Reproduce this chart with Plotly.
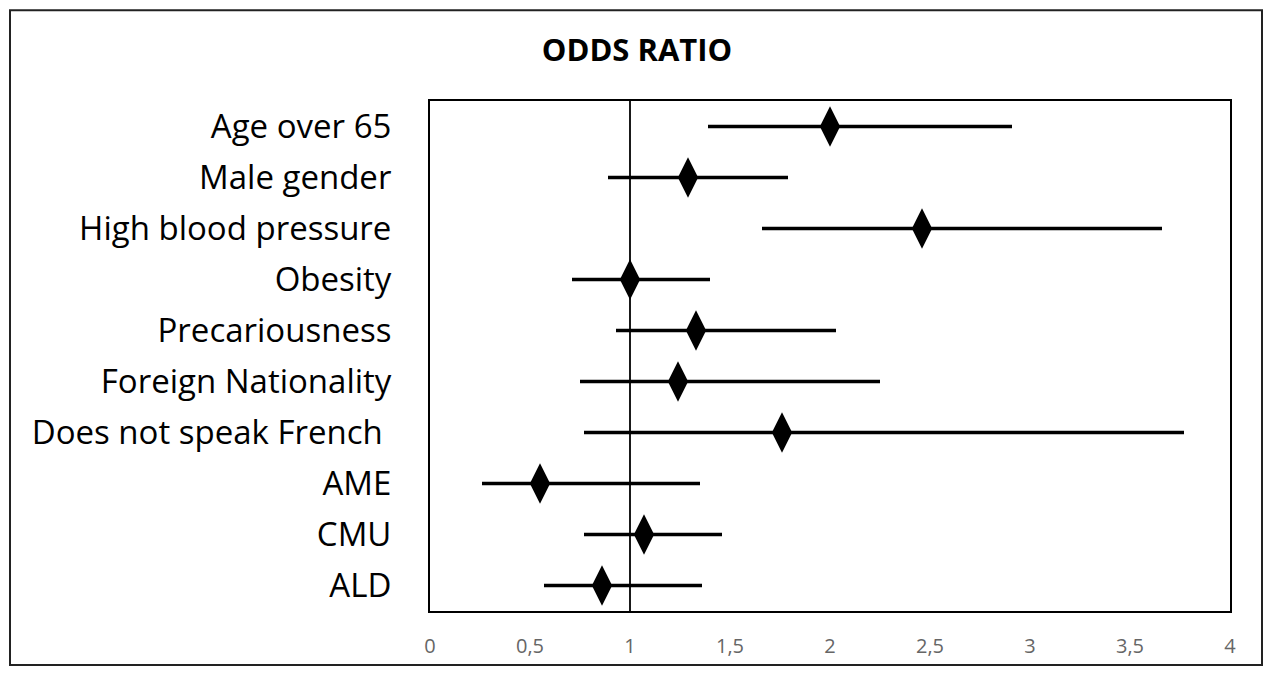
import plotly.graph_objects as go

factors = ['Age over 65', 'Male gender', 'High blood pressure', 'Obesity', 'Precariousness',
           'Foreign Nationality', 'Does not speak French ', 'AME', 'CMU', 'ALD']
odds = [2.00, 1.29, 2.46, 1.00, 1.33, 1.24, 1.76, 0.55, 1.07, 0.86]
ci_low = [1.39, 0.89, 1.66, 0.71, 0.93, 0.75, 0.77, 0.26, 0.77, 0.57]
ci_high = [2.91, 1.79, 3.66, 1.40, 2.03, 2.25, 3.77, 1.35, 1.46, 1.36]

err_plus = [h - o for h, o in zip(ci_high, odds)]
err_minus = [o - l for o, l in zip(odds, ci_low)]

fig = go.Figure()
fig.add_trace(go.Scatter(
    x=odds, y=factors, mode='markers',
    marker=dict(symbol='diamond-tall', size=29, color='black'),
    error_x=dict(type='data', symmetric=False, array=err_plus, arrayminus=err_minus,
                 color='black', thickness=3.5, width=0),
    showlegend=False
))

fig.add_vline(x=1, line=dict(color='black', width=1.8), layer='below')

# outer frame round the whole chart
fig.add_shape(type='rect', xref='paper', yref='paper',
              x0=-0.525, x1=1.04, y0=-0.106, y1=1.178,
              line=dict(color='#222222', width=2))

fig.update_layout(
    width=1274, height=673,
    margin=dict(l=430, r=44, t=101, b=62),
    paper_bgcolor='white', plot_bgcolor='white',
    separators=', ',
    font=dict(family='Open Sans', color='black'),
    title=dict(text='<b>ODDS RATIO</b>', x=0.5, xref='container', y=0.926, yanchor='middle',
               font=dict(size=31, family='Open Sans', color='black')),
    xaxis=dict(range=[0, 4], dtick=0.5, tickformat='.1~f', showgrid=False, zeroline=False,
               showline=True, mirror=True, linecolor='black', linewidth=2,
               ticks='', tickfont=dict(size=20, color='#666666'), ticklabelstandoff=16),
    yaxis=dict(range=[9.5, -0.5], showgrid=False, zeroline=False,
               showline=True, mirror=True, linecolor='black', linewidth=2,
               ticks='', tickfont=dict(size=33, color='black'), ticklabelstandoff=30),
)

fig.write_html("out.html", config={'displayModeBar': False},
               post_script="document.body.style.margin='0';")
